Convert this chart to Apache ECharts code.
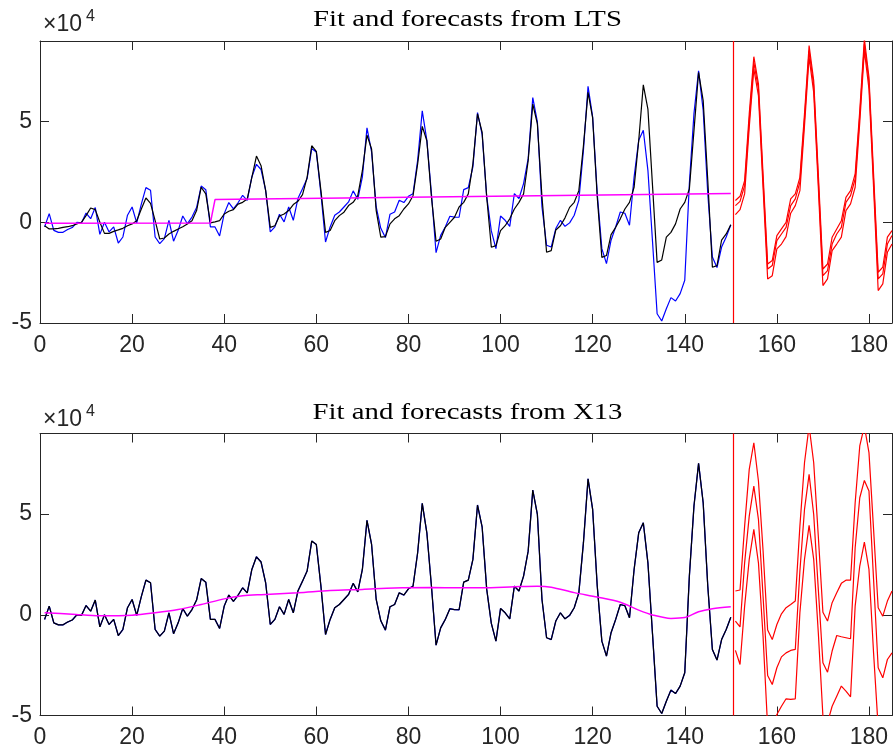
<!DOCTYPE html>
<html><head><meta charset="utf-8">
<script src="https://cdn.jsdelivr.net/npm/echarts@6/dist/echarts.min.js"></script>
<style>html,body{margin:0;padding:0;background:#fff}#c{width:893px;height:754px}</style>
</head><body><div id="c"></div>
<script>
// values in units of 10^4, sample index starts at 1
const observed = [
 -0.23,0.43,-0.4,-0.5,-0.5,-0.36,-0.26,0.0,-0.03,0.46,0.18,0.73,
 -0.6,0.0,-0.48,-0.23,-1.03,-0.73,0.35,0.76,-0.03,0.9,1.72,1.59,
 -0.73,-1.06,-0.81,0.1,-0.94,-0.4,0.31,-0.07,0.26,0.73,1.8,1.62,
 -0.23,-0.23,-0.68,0.43,0.98,0.67,0.97,1.34,1.09,2.25,2.88,2.62,
 1.59,-0.48,-0.23,0.4,0.02,0.76,0.1,1.18,1.67,2.17,3.66,3.49,
 1.42,-0.98,-0.23,0.35,0.51,0.76,1.01,1.56,1.14,2.25,4.69,3.49,
 0.76,-0.3,-0.76,0.4,0.51,1.09,0.98,1.29,1.42,3.08,5.53,4.07,
 1.42,-1.51,-0.65,-0.23,0.3,0.26,0.25,1.62,1.72,2.75,5.45,4.37,
 1.26,-0.43,-1.31,0.31,0.1,-0.2,1.42,1.18,1.92,3.16,6.19,4.98,
 0.76,-1.14,-1.23,-0.31,0.1,-0.2,-0.03,0.35,1.09,3.58,6.75,5.23,
 1.42,-1.31,-2.05,-0.89,-0.23,0.51,0.45,-0.15,2.25,4.07,4.57,2.58,
 -0.95,-4.54,-4.9,-4.29,-3.74,-3.91,-3.54,-2.88,1.92,5.4,7.52,5.56,
 1.42,-1.72,-2.25,-1.23,-0.73,-0.12
];
const ltsFit = [
 -0.17,-0.33,-0.33,-0.3,-0.25,-0.22,-0.17,-0.08,0.0,0.33,0.71,0.63,
 0.0,-0.55,-0.55,-0.45,-0.38,-0.3,-0.17,-0.08,0.08,0.66,1.21,0.94,
 0.08,-0.83,-0.78,-0.58,-0.45,-0.33,-0.22,-0.08,0.08,0.58,1.74,1.41,
 -0.03,0.02,0.08,0.41,0.55,0.63,0.9,0.99,1.16,2.23,3.29,2.81,
 1.57,-0.25,-0.17,0.31,0.41,0.58,0.88,1.04,1.37,2.23,3.8,3.52,
 1.57,-0.5,-0.41,0.08,0.33,0.5,0.83,0.99,1.32,2.56,4.33,3.64,
 0.58,-0.74,-0.71,-0.08,0.17,0.33,0.66,0.91,1.32,2.9,4.76,4.05,
 1.24,-0.94,-0.83,-0.25,0.0,0.25,0.76,0.99,1.41,2.9,5.38,4.47,
 1.24,-1.24,-1.16,-0.41,-0.17,0.17,0.66,0.99,1.41,3.06,5.87,4.88,
 1.24,-1.49,-1.41,-0.38,-0.17,0.22,0.74,0.99,1.57,3.8,6.45,5.18,
 1.24,-1.74,-1.65,-0.61,-0.25,0.17,0.66,0.99,1.74,4.05,6.82,5.62,
 1.82,-1.99,-1.87,-0.74,-0.5,-0.08,0.66,0.99,1.65,4.55,7.44,6.04,
 2.07,-2.23,-2.15,-0.88,-0.58,-0.12
];
const x13Fit = observed; // X13 fit lies on the observed series
const ltsLevel = [[1,-0.05],[37,-0.03],[38,1.13],[150,1.43]];
const x13Trend = [[1,0.1],[7,0.03],[13,-0.05],[20,-0.02],[25,0.1],[30,0.26],[35,0.51],[40,0.79],
 [44,0.94],[48,1.0],[56,1.09],[63,1.2],[70,1.26],[77,1.33],[85,1.35],[91,1.34],[96,1.34],
 [103,1.39],[108,1.42],[111,1.37],[116,1.1],[121,0.88],[126,0.62],[130,0.23],[133,-0.01],
 [137,-0.18],[140,-0.14],[143,0.15],[146,0.3],[150,0.4]];
// forecasts, index 151..185
const ltsFcUpper = [1.08,1.29,2.07,5.38,8.22,6.87,2.4,-2.07,-1.9,-0.66,-0.33,0.0,1.16,1.41,2.23,5.38,8.77,7.03,2.4,-2.32,-2.07,-0.74,-0.33,0.08,1.24,1.57,2.4,5.54,9.1,7.2,2.4,-2.48,-2.23,-0.74,-0.41];
const ltsFcMid   = [0.83,1.04,1.82,5.05,7.94,6.62,2.07,-2.32,-2.15,-0.91,-0.58,-0.25,0.83,1.16,1.99,5.13,8.52,6.78,2.07,-2.65,-2.4,-1.08,-0.58,-0.25,0.99,1.32,2.15,5.29,8.85,6.95,2.07,-2.81,-2.56,-1.08,-0.66];
const ltsFcLower = [0.38,0.63,1.41,4.71,7.61,6.29,1.74,-2.81,-2.65,-1.32,-1.08,-0.71,0.45,0.83,1.57,4.8,8.19,6.45,1.74,-3.14,-2.81,-1.41,-1.08,-0.74,0.58,0.91,1.74,4.96,8.52,6.62,1.74,-3.39,-3.06,-1.49,-1.08];
const x13FcUpper = [1.18,1.23,4.4,7.22,8.54,6.64,3.2,-0.76,-1.23,-0.48,0.05,0.35,0.51,0.68,4.4,7.55,9.37,7.55,3.9,0.13,-0.31,0.6,1.09,1.56,1.72,1.72,5.56,8.38,9.37,8.05,4.24,0.35,-0.07,0.68,1.18];
const x13FcMid   = [-0.31,-0.6,2.58,4.9,6.39,4.74,0.93,-3.01,-3.46,-2.63,-2.09,-1.89,-1.77,-1.72,2.17,5.23,6.97,4.98,1.26,-2.38,-2.85,-1.8,-1.03,-1.09,-1.14,-1.19,3.33,5.81,6.67,6.14,1.75,-2.63,-3.13,-2.22,-1.89];
const x13FcLower = [-1.77,-2.47,0.43,2.75,4.24,2.58,-1.06,-5.6,-5.9,-4.95,-4.54,-4.17,-4.2,-4.17,0.1,2.75,4.44,2.75,-0.89,-5.03,-5.36,-4.54,-4.04,-3.54,-3.79,-4.07,0.43,2.42,3.61,2.25,-1.9,-5.6,-6.0,-5.6,-5.3];
const titles = ['Fit and forecasts from LTS', 'Fit and forecasts from X13'];
const xTicks = {min:0, max:185, interval:20};
const yTicks = {min:-5, max:9, interval:5};
const forecastStart = 150.5;

const pairs = (arr, start) => arr.map((v,k)=>[start+k, v]);
const AX = '#262626';
const FONT = "'Liberation Sans', Arial, sans-serif";
const gridTops = [41, 433.5];
const gridH = 282;

function xAx(g, pos){
  return {gridIndex:g, type:'value', min:xTicks.min, max:xTicks.max, interval:xTicks.interval, position:pos,
    axisLine:{show:true, onZero:false, lineStyle:{color:AX, width:1}},
    axisTick:{show:true, inside:true, length:9, lineStyle:{color:AX}},
    axisLabel:{show:pos==='bottom', color:AX, fontSize:23, fontFamily:FONT, margin:11, showMaxLabel:false},
    splitLine:{show:false}};
}
function yAx(g, pos){
  return {gridIndex:g, type:'value', min:yTicks.min, max:yTicks.max, interval:yTicks.interval, position:pos,
    axisLine:{show:true, onZero:false, lineStyle:{color:AX, width:1}},
    axisTick:{show:true, inside:true, length:9, lineStyle:{color:AX}},
    axisLabel:{show:pos==='left', color:AX, fontSize:23, fontFamily:FONT, margin:8, showMaxLabel:false},
    splitLine:{show:false}};
}
function line(g, data, color, width, extra){
  return Object.assign({type:'line', xAxisIndex:g*2, yAxisIndex:g*2, data:data, showSymbol:false, symbol:'none',
    lineStyle:{color:color, width:width}, itemStyle:{color:color}, animation:false, silent:true, z:3}, extra||{});
}
const vline = {silent:true, symbol:'none', label:{show:false},
  lineStyle:{color:'#ff0000', width:1.2, type:'solid'}, data:[{xAxis:forecastStart}]};

const series = [];
// top panel
series.push(line(0, pairs(observed,1), '#0000ff', 1.2));
series.push(line(0, pairs(ltsFit,1), '#000000', 1.2));
series.push(line(0, ltsLevel, '#ff00ff', 1.5));
series.push(line(0, pairs(ltsFcUpper,151), '#ff0000', 1.2, {markLine:vline}));
series.push(line(0, pairs(ltsFcMid,151), '#ff0000', 1.2));
series.push(line(0, pairs(ltsFcLower,151), '#ff0000', 1.2));
// bottom panel
series.push(line(1, pairs(observed,1), '#0000ff', 1.3));
series.push(line(1, pairs(x13Fit,1), '#000000', 1.2));
series.push(line(1, x13Trend, '#ff00ff', 1.5, {smooth:0.3}));
series.push(line(1, pairs(x13FcUpper,151), '#ff0000', 1.2, {markLine:vline}));
series.push(line(1, pairs(x13FcMid,151), '#ff0000', 1.2));
series.push(line(1, pairs(x13FcLower,151), '#ff0000', 1.2));

const graphic = [];
[[20, 25, 17], [412.5, 420, 412]].forEach((p, g)=>{
  graphic.push({type:'text', x:467.5, y:p[0], scaleX:1.25, scaleY:1,
    style:{text:titles[g], font:"23px 'Liberation Serif', 'Times New Roman', serif", fill:'#000', textAlign:'center', textVerticalAlign:'middle'}});
  graphic.push({type:'text', x:43, y:p[1], style:{text:'×10', font:"23px "+FONT, fill:AX, textVerticalAlign:'middle'}});
  graphic.push({type:'text', x:86, y:p[2], style:{text:'4', font:"16px "+FONT, fill:AX, textVerticalAlign:'middle'}});
});

const chart = echarts.init(document.getElementById('c'), null, {renderer:'canvas'});
chart.setOption({
  animation:false,
  backgroundColor:'#fff',
  grid:[
    {left:40, right:1, top:gridTops[0], height:gridH},
    {left:40, right:1, top:gridTops[1], height:gridH}
  ],
  xAxis:[xAx(0,'bottom'), xAx(0,'top'), xAx(1,'bottom'), xAx(1,'top')],
  yAxis:[yAx(0,'left'), yAx(0,'right'), yAx(1,'left'), yAx(1,'right')],
  graphic:graphic,
  series:series
});
</script></body></html>
